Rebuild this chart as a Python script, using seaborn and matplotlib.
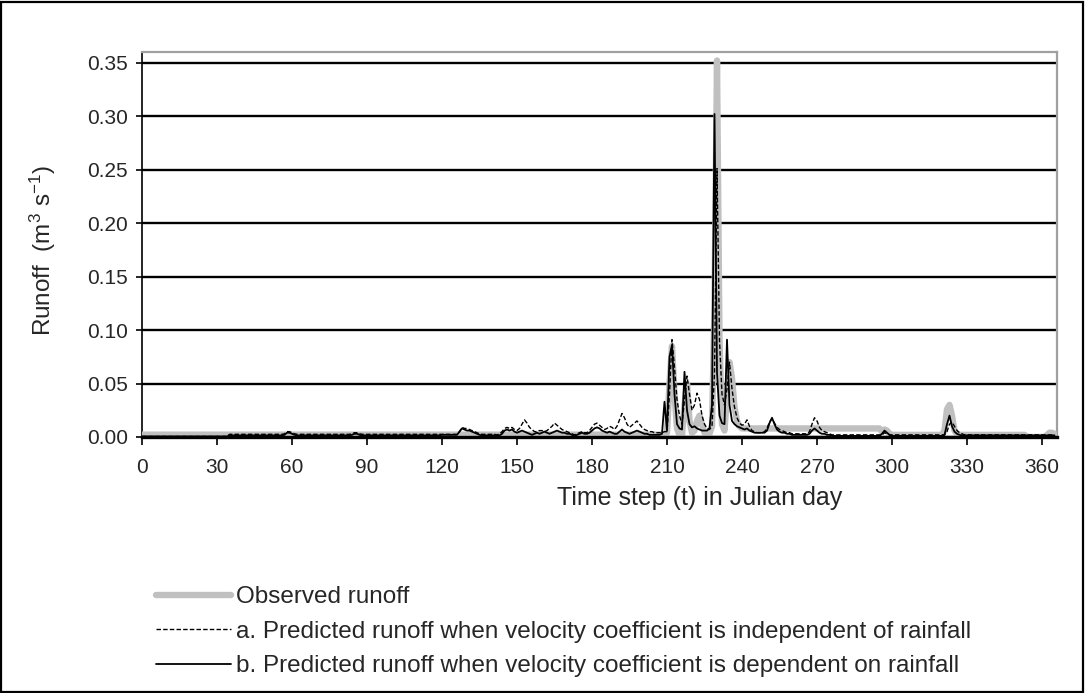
import numpy as np
import pandas as pd
import matplotlib
matplotlib.use("Agg")
import matplotlib.pyplot as plt
from matplotlib.patches import Rectangle
from matplotlib.lines import Line2D
import seaborn as sns

# ---------------------------------------------------------------
# Daily runoff (m3 s-1), Julian days 0..365
# ---------------------------------------------------------------
days = list(range(0, 366))

# Observed runoff
observed = (
    [0.0022] * 210                                                          # 0-209
    + [0.004, 0.050, 0.085, 0.040, 0.008, 0.002, 0.002, 0.030, 0.050, 0.015]  # 210
    + [0.004, 0.006, 0.015, 0.020, 0.012, 0.004, 0.002, 0.003, 0.010, 0.120]  # 220
    + [0.352, 0.090, 0.012, 0.006, 0.040, 0.070, 0.055, 0.028, 0.015, 0.010]  # 230
    + [0.008] * 56                                                          # 240-295
    + [0.005, 0.007, 0.006, 0.003]                                          # 296-299
    + [0.002] * 20                                                          # 300-319
    + [0.002, 0.006, 0.026, 0.030, 0.020, 0.006, 0.003, 0.002, 0.002, 0.002]  # 320
    + [0.002] * 24                                                          # 330-353
    + [0.000] * 8                                                           # 354-361
    + [0.002, 0.004, 0.004, 0.003]                                          # 362-365
)

# a. Predicted runoff, velocity coefficient independent of rainfall
pred_indep = (
    [0.0005] * 35 + [0.0025] * 22 + [0.003, 0.005, 0.005, 0.004, 0.003]
    + [0.0025] * 22 + [0.003, 0.004, 0.004, 0.003] + [0.0025] * 32          # 0-119
    + [0.0025] * 7 + [0.005, 0.009, 0.008]                                  # 120
    + [0.008, 0.007, 0.006, 0.005, 0.004, 0.003, 0.0025, 0.0025, 0.0025, 0.0025]  # 130
    + [0.0025, 0.0025, 0.002, 0.003, 0.005, 0.008, 0.009, 0.008, 0.009, 0.007]    # 140
    + [0.006, 0.008, 0.012, 0.016, 0.013, 0.009, 0.007, 0.005, 0.005, 0.006]  # 150
    + [0.006, 0.005, 0.006, 0.008, 0.010, 0.013, 0.011, 0.009, 0.007, 0.006]  # 160
    + [0.005, 0.004, 0.003, 0.002, 0.003, 0.004, 0.005, 0.004, 0.004, 0.006]  # 170
    + [0.009, 0.012, 0.013, 0.011, 0.009, 0.007, 0.008, 0.010, 0.009, 0.007]  # 180
    + [0.010, 0.016, 0.022, 0.018, 0.012, 0.009, 0.011, 0.013, 0.015, 0.012]  # 190
    + [0.009, 0.007, 0.006, 0.005, 0.005, 0.004, 0.004, 0.004, 0.004, 0.005]  # 200
    + [0.005, 0.040, 0.091, 0.065, 0.035, 0.020, 0.012, 0.035, 0.057, 0.040]  # 210
    + [0.025, 0.030, 0.041, 0.035, 0.020, 0.012, 0.008, 0.007, 0.010, 0.060]  # 220
    + [0.251, 0.090, 0.040, 0.030, 0.045, 0.070, 0.045, 0.028, 0.018, 0.013]  # 230
    + [0.011, 0.012, 0.016, 0.010, 0.006, 0.005, 0.004, 0.004, 0.004, 0.005]  # 240
    + [0.008, 0.014, 0.017, 0.013, 0.009, 0.007, 0.006, 0.005, 0.004, 0.004]  # 250
    + [0.003] * 7 + [0.005, 0.012, 0.018]                                   # 260
    + [0.015, 0.009, 0.006, 0.005, 0.004, 0.003, 0.002, 0.002, 0.002, 0.002]  # 270
    + [0.002] * 10                                                          # 280
    + [0.002] * 7 + [0.004, 0.003, 0.002]                                   # 290
    + [0.002] * 20                                                          # 300-319
    + [0.002, 0.002, 0.005, 0.012, 0.014, 0.010, 0.006, 0.004, 0.003, 0.002]  # 320
    + [0.002] * 36                                                          # 330-365
)

# b. Predicted runoff, velocity coefficient dependent on rainfall
pred_dep = (
    [0.0005] * 35 + [0.0015] * 22 + [0.002, 0.004, 0.004, 0.003, 0.002]
    + [0.0015] * 22 + [0.002, 0.003, 0.003, 0.002] + [0.0015] * 32          # 0-119
    + [0.002] * 7 + [0.005, 0.008, 0.007]                                   # 120
    + [0.006, 0.006, 0.005, 0.004, 0.003, 0.002, 0.0015, 0.0015, 0.0015, 0.0015]  # 130
    + [0.0015, 0.0015, 0.0015, 0.0015, 0.003, 0.006, 0.007, 0.006, 0.007, 0.005]  # 140
    + [0.004, 0.005, 0.006, 0.005, 0.004, 0.003, 0.002, 0.003, 0.004, 0.003]  # 150
    + [0.004, 0.005, 0.004, 0.003, 0.004, 0.005, 0.006, 0.005, 0.004, 0.004]  # 160
    + [0.003, 0.003, 0.002, 0.001, 0.002, 0.003, 0.004, 0.003, 0.003, 0.004]  # 170
    + [0.006, 0.008, 0.009, 0.008, 0.006, 0.005, 0.004, 0.005, 0.004, 0.003]  # 180
    + [0.003, 0.005, 0.007, 0.005, 0.004, 0.003, 0.004, 0.005, 0.006, 0.005]  # 190
    + [0.004, 0.003, 0.003, 0.002, 0.002, 0.002, 0.002, 0.002, 0.003, 0.033]  # 200
    + [0.006, 0.075, 0.086, 0.040, 0.012, 0.008, 0.007, 0.061, 0.025, 0.012]  # 210
    + [0.009, 0.010, 0.008, 0.007, 0.006, 0.006, 0.006, 0.008, 0.030, 0.302]  # 220
    + [0.060, 0.020, 0.013, 0.012, 0.091, 0.030, 0.015, 0.012, 0.010, 0.009]  # 230
    + [0.008, 0.007, 0.008, 0.006, 0.005, 0.004, 0.004, 0.004, 0.004, 0.004]  # 240
    + [0.006, 0.013, 0.018, 0.012, 0.007, 0.005, 0.004, 0.004, 0.003, 0.003]  # 250
    + [0.002] * 7 + [0.003, 0.006, 0.008]                                   # 260
    + [0.006, 0.004, 0.003, 0.003, 0.002, 0.002, 0.001, 0.001, 0.001, 0.001]  # 270
    + [0.001] * 10                                                          # 280
    + [0.001] * 6 + [0.003, 0.006, 0.004, 0.002]                            # 290
    + [0.001] * 20                                                          # 300-319
    + [0.001, 0.002, 0.012, 0.020, 0.010, 0.005, 0.003, 0.002, 0.0015, 0.0015]  # 320
    + [0.0015] * 36                                                         # 330-365
)

x_ticks = list(range(0, 361, 30))
y_ticks = [0.00, 0.05, 0.10, 0.15, 0.20, 0.25, 0.30, 0.35]

labels = [
    "Observed runoff",
    "a. Predicted runoff when velocity coefficient is independent of rainfall",
    "b. Predicted runoff when velocity coefficient is dependent on rainfall",
]

df = pd.DataFrame({
    "day": days,
    "observed": observed,
    "pred_indep": pred_indep,
    "pred_dep": pred_dep,
})

# ---------------------------------------------------------------
sns.set_style("white")
plt.rcParams["font.family"] = ["Liberation Sans", "DejaVu Sans"]
plt.rcParams["mathtext.fontset"] = "custom"
plt.rcParams["mathtext.rm"] = "Liberation Sans"
plt.rcParams["mathtext.it"] = "Liberation Sans:italic"

fig = plt.figure(figsize=(10.85, 6.93), dpi=100)
ax = fig.add_axes([142 / 1085, 1 - 437 / 693, (1057 - 142) / 1085, (437 - 52) / 693])

GRAY = "#c0c0c0"
DASH = (0, (3.2, 1.6))

sns.lineplot(data=df, x="day", y="observed", ax=ax, color=GRAY, lw=4.6,
             solid_capstyle="round", zorder=3)
sns.lineplot(data=df, x="day", y="pred_indep", ax=ax, color="black", lw=1.0,
             linestyle=DASH, zorder=4)
sns.lineplot(data=df, x="day", y="pred_dep", ax=ax, color="black", lw=1.3,
             zorder=5)

ax.set_xlim(0, 366)
ax.set_ylim(0, 0.36)
ax.set_xticks(x_ticks)
ax.set_xticklabels([str(v) for v in x_ticks])
ax.set_yticks(y_ticks)
ax.set_yticklabels([f"{v:.2f}" for v in y_ticks])

ax.yaxis.grid(True, color="black", lw=1.7, zorder=1)
ax.xaxis.grid(False)
ax.set_axisbelow(True)

for side in ("top", "right"):
    ax.spines[side].set_color("#a0a0a0")
    ax.spines[side].set_linewidth(1.6)
ax.spines["left"].set_color("black")
ax.spines["left"].set_linewidth(1.2)
ax.spines["bottom"].set_color("black")
ax.spines["bottom"].set_linewidth(2.4)
ax.spines["bottom"].set_zorder(6)

ax.tick_params(axis="x", direction="out", length=6, width=1.2, color="black",
               labelsize=15, pad=9, bottom=True)
ax.tick_params(axis="y", direction="out", length=4, width=1.2, color="black",
               labelsize=15, pad=6, left=True)

ax.set_xlabel("Time step (t) in Julian day", fontsize=18)
ax.xaxis.set_label_coords((700 - 142) / 915, (437 - 486) / 385)
ax.set_ylabel("Runoff  (m$^{3}$ s$^{-1}$)", fontsize=17.5)
ax.yaxis.set_label_coords((58 - 142) / 915, (437 - 250) / 385)

handles = [
    Line2D([], [], color=GRAY, lw=4.6),
    Line2D([], [], color="black", lw=1.0, linestyle=DASH),
    Line2D([], [], color="black", lw=1.3),
]
fig.legend(handles, labels, loc="upper left",
           bbox_to_anchor=(156 / 1085, 1 - 586 / 693),
           frameon=False, fontsize=17.5, handlelength=3.1, handletextpad=0.2,
           labelspacing=0.52, borderpad=0, borderaxespad=0)

fig.patches.append(Rectangle((0.001, 0.0015), 0.997, 0.996,
                             transform=fig.transFigure, fill=False,
                             edgecolor="black", lw=1.6))

fig.savefig("out.png", dpi=100)
